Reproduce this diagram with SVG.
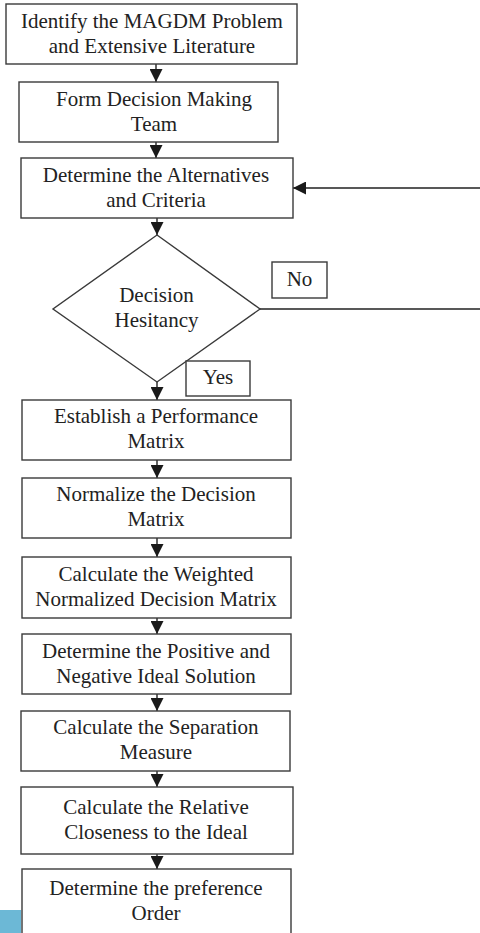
<svg xmlns="http://www.w3.org/2000/svg" width="480" height="933" viewBox="0 0 480 933">
<style>
.box{fill:#fff;stroke:#3a3a3a;stroke-width:1.4}
.t{font-family:'Liberation Serif','DejaVu Serif',serif;font-size:21px;fill:#222;text-anchor:middle}
.c{fill:none;stroke:#222;stroke-width:1.4}
</style>
<defs>
<marker id="ah" markerUnits="userSpaceOnUse" markerWidth="13" markerHeight="13" refX="13" refY="6.5" orient="auto">
<path d="M0,0 L13,6.5 L0,13 z" fill="#1a1a1a"/>
</marker>
</defs>
<rect x="0" y="910" width="21" height="23" fill="#6cb8d6"/>
<g id="connectors">
<line class="c" x1="156" y1="64" x2="156" y2="82" marker-end="url(#ah)"/>
<line class="c" x1="156" y1="142" x2="156" y2="158" marker-end="url(#ah)"/>
<line class="c" x1="157" y1="218" x2="157" y2="235" marker-end="url(#ah)"/>
<line class="c" x1="157" y1="382" x2="157" y2="400" marker-end="url(#ah)"/>
<line class="c" x1="157" y1="460" x2="157" y2="478" marker-end="url(#ah)"/>
<line class="c" x1="157" y1="538" x2="157" y2="557" marker-end="url(#ah)"/>
<line class="c" x1="157" y1="618" x2="157" y2="634" marker-end="url(#ah)"/>
<line class="c" x1="157" y1="694" x2="157" y2="711" marker-end="url(#ah)"/>
<line class="c" x1="157" y1="771" x2="157" y2="787" marker-end="url(#ah)"/>
<line class="c" x1="157" y1="854" x2="157" y2="869" marker-end="url(#ah)"/>
<path class="c" d="M260,309 H482 V188 H293" marker-end="url(#ah)"/>
</g>
<g font-family="Liberation Serif, DejaVu Serif, serif">
<g id="n1"><rect class="box" x="6" y="4" width="291" height="60"/>
<text class="t" x="152" y="28">Identify the MAGDM Problem</text><text class="t" x="152" y="53">and Extensive Literature</text></g>
<g id="n2"><rect class="box" x="19" y="82" width="259" height="60"/>
<text class="t" x="154" y="106">Form Decision Making</text><text class="t" x="154" y="131">Team</text></g>
<g id="n3"><rect class="box" x="21" y="158" width="272" height="60"/>
<text class="t" x="156" y="182">Determine the Alternatives</text><text class="t" x="156" y="207">and Criteria</text></g>
<g id="d1"><polygon class="box" points="157,235 260,309 157,382 53,309"/>
<text class="t" x="156.5" y="302">Decision</text><text class="t" x="156.5" y="327">Hesitancy</text></g>
<g id="no"><rect class="box" x="272" y="262" width="55" height="36"/><text class="t" x="299.5" y="286">No</text></g>
<g id="yes"><rect class="box" x="186" y="361" width="64" height="35"/><text class="t" x="218" y="384">Yes</text></g>
<g id="n4"><rect class="box" x="22" y="400" width="269" height="60"/>
<text class="t" x="156" y="423">Establish a Performance</text><text class="t" x="156" y="448">Matrix</text></g>
<g id="n5"><rect class="box" x="22" y="478" width="269" height="60"/>
<text class="t" x="156" y="501">Normalize the Decision</text><text class="t" x="156" y="526">Matrix</text></g>
<g id="n6"><rect class="box" x="22" y="557" width="269" height="61"/>
<text class="t" x="156" y="581">Calculate the Weighted</text><text class="t" x="156" y="606">Normalized Decision Matrix</text></g>
<g id="n7"><rect class="box" x="22" y="634" width="269" height="60"/>
<text class="t" x="156" y="658">Determine the Positive and</text><text class="t" x="156" y="683">Negative Ideal Solution</text></g>
<g id="n8"><rect class="box" x="21" y="711" width="269" height="60"/>
<text class="t" x="156" y="734">Calculate the Separation</text><text class="t" x="156" y="759">Measure</text></g>
<g id="n9"><rect class="box" x="21" y="787" width="272" height="67"/>
<text class="t" x="156" y="814">Calculate the Relative</text><text class="t" x="156" y="839">Closeness to the Ideal</text></g>
<g id="n10"><rect class="box" x="22" y="869" width="269" height="70"/>
<text class="t" x="156" y="895">Determine the preference</text><text class="t" x="156" y="920">Order</text></g>
</g>
</svg>
